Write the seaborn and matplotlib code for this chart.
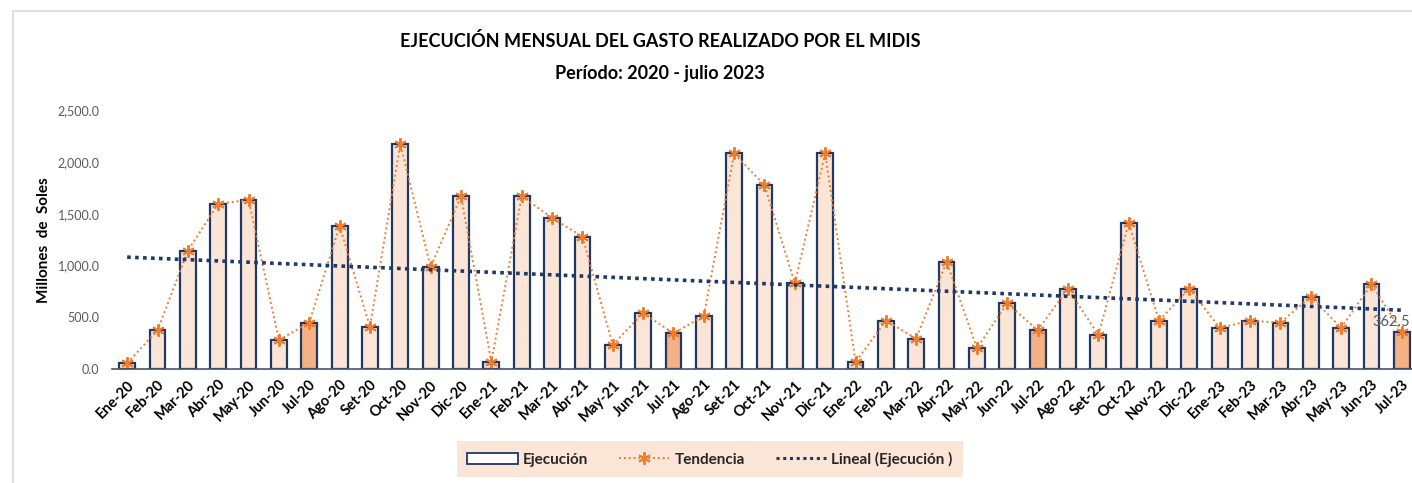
import numpy as np
import pandas as pd
import matplotlib
matplotlib.use("Agg")
import matplotlib.pyplot as plt
import seaborn as sns
from matplotlib.patches import Patch, Rectangle
from matplotlib.lines import Line2D
from matplotlib.ticker import FuncFormatter

meses = ["Ene-20", "Feb-20", "Mar-20", "Abr-20", "May-20", "Jun-20", "Jul-20", "Ago-20", "Set-20", "Oct-20", "Nov-20", "Dic-20",
         "Ene-21", "Feb-21", "Mar-21", "Abr-21", "May-21", "Jun-21", "Jul-21", "Ago-21", "Set-21", "Oct-21", "Nov-21", "Dic-21",
         "Ene-22", "Feb-22", "Mar-22", "Abr-22", "May-22", "Jun-22", "Jul-22", "Ago-22", "Set-22", "Oct-22", "Nov-22", "Dic-22",
         "Ene-23", "Feb-23", "Mar-23", "Abr-23", "May-23", "Jun-23", "Jul-23"]
ejecucion = [60, 375, 1145, 1595, 1634, 283, 450, 1383, 411, 2171, 987, 1669,
             70, 1669, 1460, 1280, 237, 543, 347, 514, 2081, 1775, 830, 2081,
             70, 469, 295, 1038, 203, 637, 376, 778, 331, 1409, 469, 778,
             399, 469, 450, 701, 399, 820, 362.5]
destacados = ["Jul-20", "Jul-21", "Jul-22", "Jul-23"]
y_ticks = [0, 500, 1000, 1500, 2000, 2500]

NAVY = "#1F3864"
ORANGE = "#ED7D31"
LIGHT = "#FBE5D6"
DARK = "#F4B183"

sns.set_theme(style="white")
plt.rcParams["font.family"] = ["Lato", "DejaVu Sans"]

df = pd.DataFrame({"mes": meses, "valor": ejecucion,
                   "grupo": ["julio" if m in destacados else "otro" for m in meses]})

fig = plt.figure(figsize=(14.12, 4.83), dpi=100)
ax = fig.add_axes([112 / 1412, 1 - 369.3 / 483, (1417 - 112) / 1412, 259.3 / 483])

sns.barplot(data=df, x="mes", y="valor", hue="grupo", palette={"julio": DARK, "otro": LIGHT},
            dodge=False, width=0.52, edgecolor=NAVY, linewidth=1.6, legend=False, ax=ax, saturation=1)

pos = np.arange(len(meses))
sns.lineplot(x=pos, y=ejecucion, ax=ax, color=ORANGE, linestyle=(0, (1, 1.5)), linewidth=1.4,
             marker=(6, 2, 0), markersize=9, markeredgewidth=1.4, markeredgecolor=ORANGE)

coef = np.polyfit(pos, ejecucion, 1)
trend = np.polyval(coef, pos)
sns.lineplot(x=pos, y=trend, ax=ax, color=NAVY, linestyle=(0, (1, 1.2)), linewidth=2.6)

ax.text(pos[-1] - 0.35, ejecucion[-1] + 95, "362.5", color="#595959", fontsize=10.5,
        ha="center", va="center")

ax.set_xlim(-0.5, len(meses) - 0.5)
ax.set_ylim(0, 2500)
ax.set_yticks(y_ticks)
ax.yaxis.set_major_formatter(FuncFormatter(lambda v, p: f"{v:,.1f}"))
ax.tick_params(axis="y", labelsize=9, colors="#595959", length=0, pad=9)
ax.set_xticks(pos)
ax.set_xticklabels(meses, rotation=45, ha="right", rotation_mode="anchor", fontsize=10.5,
                   fontweight="bold", color="black")
ax.tick_params(axis="x", length=0, pad=6)
ax.set_xlabel("")
ax.set_ylabel("Millones  de  Soles", fontsize=11, fontweight="bold", color="black", labelpad=5)
for s in ["top", "right", "left"]:
    ax.spines[s].set_visible(False)
ax.spines["bottom"].set_color("#44546A")
ax.spines["bottom"].set_linewidth(1.2)
ax.grid(False)
ax.set_facecolor("none")

fig.text(660 / 1412, 1 - 41 / 483, "EJECUCIÓN MENSUAL DEL GASTO REALIZADO POR EL MIDIS",
         ha="center", va="center", fontsize=13, fontweight="bold", color="black")
fig.text(660 / 1412, 1 - 74 / 483, "Período: 2020 - julio 2023",
         ha="center", va="center", fontsize=13, fontweight="bold", color="black")

fig.patches.append(Rectangle((12.5 / 1412, -0.05), 1.2, 1 - 11 / 483 + 0.05, transform=fig.transFigure,
                             fill=False, edgecolor="#D9D9D9", linewidth=1.2))

handles = [Patch(facecolor="white", edgecolor=NAVY, linewidth=1.3),
           Line2D([], [], color=ORANGE, linestyle=(0, (1, 1.5)), linewidth=1.4, marker=(6, 2, 0),
                  markersize=9, markeredgewidth=1.4),
           Line2D([], [], color=NAVY, linestyle=(0, (1, 1.2)), linewidth=2.2)]
labels = ["Ejecución", "Tendencia", "Lineal (Ejecución )"]
leg = fig.legend(handles, labels, loc="center", bbox_to_anchor=(710 / 1412, 1 - 459 / 483), ncol=3,
                 frameon=True, fancybox=False, facecolor=LIGHT, edgecolor="none", framealpha=1,
                 prop={"weight": "bold", "size": 11}, columnspacing=2.0, handlelength=3.3,
                 borderpad=0.7, handletextpad=0.35, borderaxespad=0)
leg.get_frame().set_boxstyle("square", pad=0.0)

fig.savefig("out.png", dpi=100)
